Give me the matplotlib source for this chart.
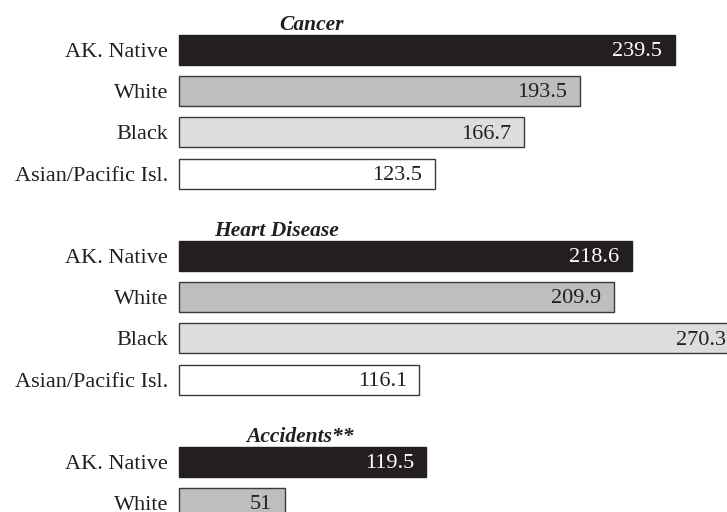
import numpy as np
import matplotlib
matplotlib.use("Agg")
from matplotlib import pyplot as plt

plt.rcParams['font.family'] = ['Liberation Serif', 'DejaVu Serif']

GROUPS = ['Cancer', 'Heart Disease', 'Accidents**']
RACES = ['AK. Native', 'White', 'Black', 'Asian/Pacific Isl.']
CANCER = [239.5, 193.5, 166.7, 123.5]
HEART = [218.6, 209.9, 270.3, 116.1]
ACCIDENTS = [119.5, 51]  # rest of the chart is cut off below

FILLS = ['#231f20', '#bcbec0', '#dcddde', '#ffffff']
TEXT_COLORS = ['white', '#231f20', '#231f20', '#231f20']
TITLE_X = [63.8, 47.3, 58.5]  # title centres, data units

BAR_H = 0.73
SLOT = 5  # 4 bars + one blank slot per group

fig = plt.figure(figsize=(7.27, 5.12), dpi=100)
ax = fig.add_axes([0, 0, 1, 1])
ax.set_xlim(-86.5, 264.7)
ax.set_ylim(11.214, -1.214)
ax.axis('off')

for g, vals in enumerate([CANCER, HEART, ACCIDENTS]):
    ys = g * SLOT + np.arange(len(vals))
    ax.barh(ys, vals, height=BAR_H, color=FILLS[:len(vals)],
            edgecolor=['#231f20'] + ['#3a3a3a'] * 3, linewidth=1.0)
    for i, (y, v) in enumerate(zip(ys, vals)):
        ax.annotate(RACES[i], (0, y), xytext=(-8, -1.8), textcoords='offset points',
                    ha='right', va='center', fontsize=16, color='#231f20',
                    annotation_clip=False)
        ax.annotate('%g' % v, (v, y), xytext=(-9, -1.2), textcoords='offset points',
                    ha='right', va='center', fontsize=16, color=TEXT_COLORS[i],
                    annotation_clip=False)
    ax.text(TITLE_X[g], g * SLOT - BAR_H / 2 - 0.12, GROUPS[g], ha='center',
            va='baseline', fontsize=15.5, fontweight='bold', fontstyle='italic',
            color='#231f20')

fig.savefig('out.png', dpi=100)
